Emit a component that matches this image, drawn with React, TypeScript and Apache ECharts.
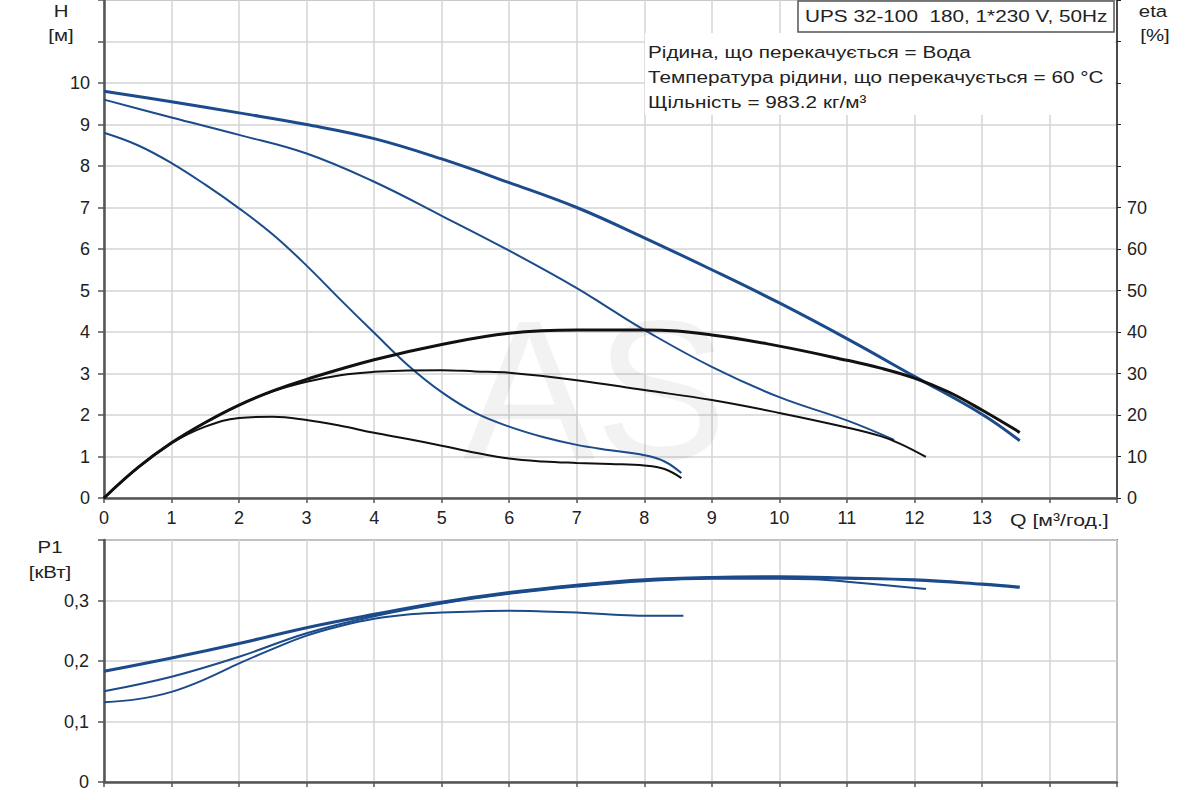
import React, { useEffect, useRef } from "react";
import * as echarts from "echarts";

// ---- Data ----
// Head curves H [m] vs Q [m³/h]
const qH1 = [0, 1, 2, 3, 4, 5, 6, 7, 8, 9, 10, 11, 12, 13, 13.56];
const h1 = [9.8, 9.55, 9.28, 9.0, 8.66, 8.17, 7.6, 7.0, 6.27, 5.5, 4.7, 3.84, 2.93, 2.02, 1.38];

const qH2 = [0, 1, 2, 3, 4, 5, 6, 7, 7.5, 8, 9, 10, 11, 11.7];
const h2 = [9.6, 9.17, 8.75, 8.3, 7.62, 6.8, 5.96, 5.06, 4.55, 4.05, 3.16, 2.43, 1.87, 1.4];

const qH3 = [0, 0.5, 1, 1.5, 2, 2.5, 3, 3.5, 4, 4.5, 5, 5.5, 6, 6.5, 7, 7.5, 8, 8.3, 8.55];
const h3 = [8.8, 8.5, 8.07, 7.55, 6.98, 6.35, 5.6, 4.78, 3.98, 3.2, 2.55, 2.05, 1.72, 1.47, 1.28, 1.15, 1.03, 0.88, 0.6];

// Efficiency curves eta [%]
const qE1 = [0, 0.5, 1, 1.5, 2, 2.5, 3, 4, 5, 6, 7, 8, 9, 10, 11, 11.5, 12, 12.5, 13, 13.56];
const e1 = [0, 7.3, 13.3, 18.2, 22.4, 25.8, 28.6, 33.3, 37.0, 39.7, 40.5, 40.5, 39.3, 36.6, 33.2, 31.3, 28.9, 25.6, 21.2, 15.8];

const qE2 = [0, 0.5, 1, 1.5, 2, 2.5, 3, 3.5, 4, 4.5, 5, 5.5, 6, 7, 8, 9, 10, 11, 11.5, 11.8, 12.17];
const e2 = [0, 7.3, 13.3, 18.2, 22.4, 25.7, 28.0, 29.6, 30.4, 30.7, 30.8, 30.5, 30.2, 28.4, 26.0, 23.6, 20.5, 17.0, 14.9, 13.0, 9.9];

const qE3 = [0, 0.5, 1, 1.5, 2, 2.5, 3, 3.5, 4, 4.5, 5, 5.5, 6, 6.5, 7, 7.5, 8, 8.3, 8.55];
const e3 = [0, 7.3, 13.2, 17.2, 19.3, 19.6, 18.8, 17.4, 15.7, 14.2, 12.6, 10.9, 9.5, 8.8, 8.45, 8.2, 7.85, 7.0, 4.8];

// Power curves P1 [kW]
const qP1 = [0, 1, 2, 3, 4, 5, 6, 7, 8, 9, 10, 11, 12, 13, 13.56];
const p1 = [0.183, 0.205, 0.229, 0.255, 0.277, 0.297, 0.313, 0.325, 0.334, 0.338, 0.339, 0.337, 0.334, 0.327, 0.322];

const qP2 = [0, 1, 2, 3, 4, 5, 6, 7, 8, 9, 10, 10.5, 11, 12.17];
const p2 = [0.15, 0.174, 0.207, 0.246, 0.274, 0.295, 0.311, 0.323, 0.332, 0.336, 0.336, 0.335, 0.331, 0.319];

const qP3 = [0, 0.5, 1, 1.5, 2, 2.5, 3, 3.5, 4, 4.5, 5, 5.5, 6, 6.5, 7, 7.5, 8, 8.58];
const p3 = [0.132, 0.137, 0.149, 0.17, 0.196, 0.22, 0.242, 0.258, 0.27, 0.277, 0.28, 0.282, 0.283, 0.282, 0.28, 0.277, 0.275, 0.275];

// Texts
const titleText = "UPS 32-100  180, 1*230 V, 50Hz";
const infoLines = [
  "Рідина, що перекачується = Вода",
  "Температура рідини, що перекачується = 60 °C",
  "Щільність = 983.2 кг/м³",
];
const qAxisName = "Q [м³/год.]";
const hAxisName = ["H", "[м]"];
const etaAxisName = ["eta", "[%]"];
const pAxisName = ["P1", "[кВт]"];

const FONT = "'Liberation Sans', Arial, sans-serif";
const BLUE = "#1b4b8b";
const BLACK = "#111111";
const GRID = "#d4d4d4";
const AXIS = "#555555";
const TXT = "#222222";
const SX = 1.2; // horizontal stretch of the reference's lettering

const zip = (xs: number[], ys: number[]) => xs.map((x, i) => [x, ys[i]]);

export default function App() {
  const ref = useRef<HTMLDivElement>(null);

  useEffect(() => {
    if (!ref.current) return;
    const chart = echarts.init(ref.current, undefined, { renderer: "svg" });

    const line = (
      name: string,
      data: number[][],
      color: string,
      width: number,
      xAxisIndex: number,
      yAxisIndex: number
    ) => ({
      name,
      type: "line",
      xAxisIndex,
      yAxisIndex,
      data,
      smooth: 0.4,
      showSymbol: false,
      symbol: "none",
      lineStyle: { color, width },
      z: 5,
    });

    const label = (text: string, x: number, y: number, align: string, scale = SX) => ({
      type: "text",
      x,
      y,
      scaleX: scale,
      z: 4,
      silent: true,
      style: { text, fontSize: 17, fontFamily: FONT, fill: TXT, align, verticalAlign: "middle" },
    });

    const axisLabelStyle = { color: TXT, fontSize: 18, fontFamily: FONT };

    const option: any = {
      animation: false,
      textStyle: { fontFamily: FONT },
      grid: [
        { left: 104, top: 0, width: 1013, height: 498, show: true, borderColor: "#888", borderWidth: 1.5, backgroundColor: "transparent" },
        { left: 104, top: 540, width: 1013, height: 242, show: true, borderColor: "#888", borderWidth: 2, backgroundColor: "transparent" },
      ],
      xAxis: [
        {
          type: "value", gridIndex: 0, min: 0, max: 15, interval: 1,
          axisLine: { show: true, lineStyle: { color: AXIS, width: 2.5 } },
          axisTick: { show: true, length: 5, lineStyle: { color: AXIS, width: 1.5 } },
          axisLabel: { ...axisLabelStyle, margin: 11, formatter: (v: number) => (v <= 13 ? String(v) : "") },
          splitLine: { show: true, lineStyle: { color: GRID, width: 1.5 } },
        },
        {
          type: "value", gridIndex: 1, min: 0, max: 15, interval: 1,
          axisLine: { show: true, lineStyle: { color: AXIS, width: 2.5 } },
          axisTick: { show: true, length: 5, lineStyle: { color: AXIS, width: 1.5 } },
          axisLabel: { show: false },
          splitLine: { show: true, lineStyle: { color: GRID, width: 1.5 } },
        },
      ],
      yAxis: [
        {
          type: "value", gridIndex: 0, min: 0, max: 12, interval: 1,
          axisLine: { show: true, lineStyle: { color: AXIS, width: 2.5 } },
          axisTick: { show: true, length: 6, lineStyle: { color: AXIS, width: 1.5 } },
          axisLabel: { ...axisLabelStyle, margin: 14, formatter: (v: number) => (v <= 10 ? String(v) : "") },
          splitLine: { show: true, lineStyle: { color: GRID, width: 1.5 } },
        },
        {
          type: "value", gridIndex: 0, position: "right", min: 0, max: 120, interval: 10,
          axisLine: { show: true, onZero: false, lineStyle: { color: "#222", width: 1.5 } },
          axisTick: { show: true, length: 4, lineStyle: { color: "#222", width: 1 } },
          axisLabel: { ...axisLabelStyle, margin: 10, formatter: (v: number) => (v <= 70 ? String(v) : "") },
          splitLine: { show: false },
        },
        {
          type: "value", gridIndex: 1, min: 0, max: 0.4, interval: 0.1,
          axisLine: { show: true, lineStyle: { color: AXIS, width: 2.5 } },
          axisTick: { show: true, length: 6, lineStyle: { color: AXIS, width: 1.5 } },
          axisLabel: {
            ...axisLabelStyle, margin: 15,
            formatter: (v: number) => (v > 0.35 ? "" : v === 0 ? "0" : v.toFixed(1).replace(".", ",")),
          },
          splitLine: { show: true, lineStyle: { color: GRID, width: 1.5 } },
        },
      ],
      graphic: [
        {
          type: "text", x: 595, y: 390, z: 1, silent: true,
          style: {
            text: "AS", fontSize: 198, lineHeight: 130, fontFamily: FONT,
            fill: "rgba(0,0,0,0.05)", align: "center", verticalAlign: "middle",
          },
        },
        {
          type: "rect", shape: { x: 645, y: 33, width: 470, height: 82 }, z: 2, silent: true,
          style: { fill: "#ffffff" },
        },
        {
          type: "rect", shape: { x: 798, y: 1, width: 316, height: 31 }, z: 3, silent: true,
          style: { fill: "#ffffff", stroke: "#555", lineWidth: 1.5 },
        },
        label(titleText, 805, 16, "left", 1.22),
        ...infoLines.map((t, i) => label(t, 648, 52 + i * 25, "left", 1.22)),
        label(hAxisName[0], 61, 11, "center"),
        label(hAxisName[1], 61, 35, "center"),
        label(etaAxisName[0], 1153, 11, "center"),
        label(etaAxisName[1], 1155, 35, "center"),
        label(pAxisName[0], 50, 547, "center"),
        label(pAxisName[1], 50, 572, "center"),
        label(qAxisName, 1010, 520, "left", 1.25),
      ],
      series: [
        line("H max", zip(qH1, h1), BLUE, 3, 0, 0),
        line("H mid", zip(qH2, h2), BLUE, 2, 0, 0),
        line("H min", zip(qH3, h3), BLUE, 2, 0, 0),
        line("eta max", zip(qE1, e1), BLACK, 3, 0, 1),
        line("eta mid", zip(qE2, e2), BLACK, 2, 0, 1),
        line("eta min", zip(qE3, e3), BLACK, 2, 0, 1),
        line("P1 max", zip(qP1, p1), BLUE, 3.2, 1, 2),
        line("P1 mid", zip(qP2, p2), BLUE, 2, 1, 2),
        line("P1 min", zip(qP3, p3), BLUE, 2, 1, 2),
      ],
    };

    chart.setOption(option);
    return () => chart.dispose();
  }, []);

  return (
    <div
      ref={ref}
      style={{ position: "absolute", left: 0, top: 0, width: 1200, height: 800, background: "#fff" }}
    />
  );
}
